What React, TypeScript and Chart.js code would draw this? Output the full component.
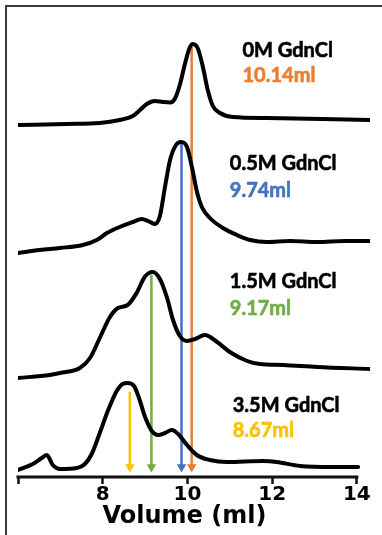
import { useEffect, useRef } from "react";
import { Chart, registerables } from "chart.js";

Chart.register(...registerables);

// ---- data ----
const volume0M = [6.0, 7.15, 7.93, 8.4, 8.71, 8.88, 9.04, 9.23, 9.42, 9.59, 9.7, 9.82, 9.94, 10.05, 10.13, 10.25, 10.37, 10.48, 10.6, 10.77, 11.07, 11.88, 14.31];
const signal0M = [0, 1, 2, 5, 9, 15, 21, 24, 23, 22.5, 26, 40, 61, 77, 81, 76, 57, 35, 19, 12, 8, 7, 5];

const volume05M = [6.0, 6.51, 6.99, 7.53, 7.86, 8.1, 8.4, 8.71, 8.92, 9.07, 9.23, 9.35, 9.47, 9.59, 9.73, 9.85, 9.99, 10.11, 10.22, 10.34, 10.53, 10.84, 11.17, 11.48, 11.88, 12.42, 13.06, 13.72, 14.31];
const signal05M = [0, 3, 5, 8, 13, 20, 26, 31, 34, 32, 29, 37, 66, 93, 108, 111, 106, 85, 62, 46, 35, 25, 18, 13, 11, 12, 11, 12, 12];

const volume15M = [6.0, 6.75, 6.99, 7.46, 7.7, 7.93, 8.17, 8.36, 8.59, 8.8, 8.99, 9.18, 9.35, 9.52, 9.66, 9.82, 9.99, 10.18, 10.41, 10.7, 11.0, 11.41, 11.71, 12.26, 13.06, 14.31];
const signal15M = [0, 3, 5, 10, 20, 40, 61, 70, 73, 85, 101, 106, 99, 80, 58, 42, 37, 39, 43, 36, 26, 17, 14, 13, 11, 9];

const volume35M = [6.0, 6.35, 6.56, 6.68, 6.82, 6.99, 7.39, 7.58, 7.74, 7.93, 8.12, 8.33, 8.47, 8.59, 8.74, 8.88, 9.0, 9.16, 9.3, 9.47, 9.63, 9.78, 9.99, 10.22, 10.53, 10.93, 11.78, 12.11, 12.66, 13.44, 14.03];
const signal35M = [0, 6, 12, 15, 5, 1, 2, 6, 16, 37, 59, 79, 86, 87, 84, 69, 53, 39, 35, 37, 40, 36, 25, 15, 10, 8, 9, 8, 4, 3, 3];

const traceVolumes = [volume0M, volume05M, volume15M, volume35M];
const traceSignals = [signal0M, signal05M, signal15M, signal35M];
const traceOffsets = [352, 224, 99, 7];

const traceNames = ["0M GdnCl", "0.5M GdnCl", "1.5M GdnCl", "3.5M GdnCl"];
const peakLabels = ["10.14ml", "9.74ml", "9.17ml", "8.67ml"];
const peakColors = ["#ED7D31", "#4472C4", "#70AD47", "#FFC000"];
const arrowVolumes = [10.1, 9.86, 9.15, 8.64];
const arrowTops = [430, 334, 202, 85];
const arrowTip = 10;

const xTicks = [6, 8, 10, 12, 14];
const xTitle = "Volume (ml)";

export default function App() {
  const ref = useRef<HTMLCanvasElement | null>(null);

  useEffect(() => {
    if (!ref.current) return;

    const traceSets = traceVolumes.map((vols, i) => ({
      type: "line" as const,
      data: vols.map((v, j) => ({ x: v, y: traceSignals[i][j] + traceOffsets[i] })),
      borderColor: "#000",
      borderWidth: 4,
      pointRadius: 0,
      cubicInterpolationMode: "monotone" as const,
      borderCapStyle: "round" as const,
      borderJoinStyle: "round" as const,
      fill: false,
      order: 1,
    }));

    const arrowSets = arrowVolumes.map((v, i) => ({
      type: "line" as const,
      data: [
        { x: v, y: arrowTops[i] },
        { x: v, y: arrowTip },
      ],
      borderColor: peakColors[i],
      backgroundColor: peakColors[i],
      borderWidth: 2.5,
      pointRadius: [0, 5.5],
      pointStyle: "triangle" as const,
      rotation: 180,
      pointBorderWidth: 0,
      fill: false,
      order: 2,
    }));

    // label anchors (x in ml, y in plot units)
    const labelX = [11.3, 11.0, 11.0, 11.07];
    const labelY1 = [420, 307, 189, 65];
    const labelY2 = [395, 280, 162, 40];

    const overlay = {
      id: "overlay",
      afterDatasetsDraw(chart: any) {
        const { ctx } = chart;
        const x = chart.scales.x;
        const y = chart.scales.y;
        ctx.save();
        // axis line from 6 to 14 only
        const yb = y.getPixelForValue(0);
        const x0 = x.getPixelForValue(xTicks[0]);
        const x1 = x.getPixelForValue(xTicks[xTicks.length - 1]);
        ctx.strokeStyle = "#111";
        ctx.lineWidth = 3;
        ctx.beginPath();
        ctx.moveTo(x0 - 1.5, yb);
        ctx.lineTo(x1 + 1.5, yb);
        ctx.stroke();
        // tick labels
        ctx.fillStyle = "#000";
        ctx.font = "bold 20px 'DejaVu Sans'";
        ctx.textAlign = "center";
        ctx.textBaseline = "alphabetic";
        xTicks.slice(1).forEach((t) => {
          ctx.fillText(String(t), x.getPixelForValue(t), yb + 23);
        });
        // axis title
        ctx.font = "bold 24px 'DejaVu Sans'";
        ctx.fillText(xTitle, (x0 + x1) / 2 - 3, yb + 46);
        // labels
        ctx.font = "700 20px Lato";
        ctx.textAlign = "left";
        ctx.lineWidth = 0.6;
        traceNames.forEach((name, i) => {
          const px = x.getPixelForValue(labelX[i]);
          ctx.fillStyle = "#000";
          ctx.strokeStyle = "#000";
          ctx.fillText(name, px, y.getPixelForValue(labelY1[i]));
          ctx.strokeText(name, px, y.getPixelForValue(labelY1[i]));
          ctx.fillStyle = peakColors[i];
          ctx.strokeStyle = peakColors[i];
          ctx.fillText(peakLabels[i], px, y.getPixelForValue(labelY2[i]));
          ctx.strokeText(peakLabels[i], px, y.getPixelForValue(labelY2[i]));
        });
        ctx.restore();
      },
    };

    const chart = new Chart(ref.current, {
      type: "line",
      data: { datasets: [...traceSets, ...arrowSets] as any },
      options: {
        animation: false,
        responsive: false,
        devicePixelRatio: 1,
        layout: { padding: { left: 18, right: 12, top: 40, bottom: 28 } },
        plugins: { legend: { display: false }, tooltip: { enabled: false } },
        scales: {
          x: {
            type: "linear",
            min: 6,
            max: 14.31,
            border: { display: false },
            grid: {
              drawOnChartArea: false,
              drawTicks: true,
              tickLength: 7,
              tickColor: "#111",
              tickWidth: 2.5,
            },
            afterBuildTicks: (axis: any) => {
              axis.ticks = xTicks.map((v) => ({ value: v }));
            },
            afterFit: (axis: any) => {
              axis.height = 30;
            },
            ticks: {
              display: false,
              autoSkip: false,
              maxRotation: 0,
            },
            title: { display: false },
          },
          y: {
            type: "linear",
            display: false,
            min: 0,
            max: 437,
          },
        },
      },
      plugins: [overlay],
    });

    return () => chart.destroy();
  }, []);

  return (
    <div style={{ position: "fixed", left: 0, top: 0, width: 382, height: 535, background: "#fff" }}>
      <canvas ref={ref} width={382} height={535} style={{ position: "absolute", left: 0, top: 0, display: "block" }} />
      <div
        style={{
          position: "absolute",
          left: 5,
          top: 5,
          right: 0,
          bottom: 0,
          borderTop: "2px solid #3a3a3a",
          borderLeft: "2px solid #3a3a3a",
          pointerEvents: "none",
        }}
      />
    </div>
  );
}
